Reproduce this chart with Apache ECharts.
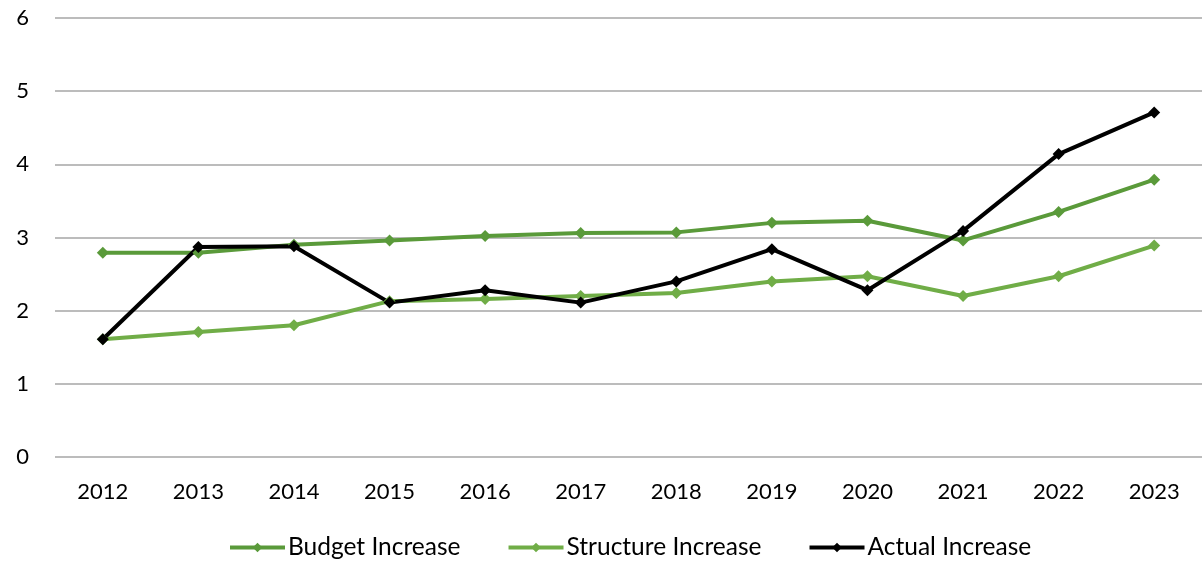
<!DOCTYPE html>
<html>
<head>
    <meta charset="utf-8">
    <title>ECharts</title>
    <script src="https://cdn.jsdelivr.net/npm/echarts@6/dist/echarts.min.js"></script>
    <style>
        html, body { margin: 0; padding: 0; background: #fff; }
    </style>
</head>
<body>
    <div id="main" style="width: 1202px;height:561px;"></div>

    <script type="text/javascript">
    var years = ['2012', '2013', '2014', '2015', '2016', '2017', '2018', '2019', '2020', '2021', '2022', '2023'];
    var budgetIncrease = [2.79, 2.79, 2.90, 2.96, 3.02, 3.06, 3.07, 3.20, 3.23, 2.96, 3.35, 3.79];
    var structureIncrease = [1.61, 1.71, 1.80, 2.13, 2.16, 2.20, 2.24, 2.40, 2.47, 2.20, 2.47, 2.89];
    var actualIncrease = [1.61, 2.87, 2.88, 2.11, 2.28, 2.11, 2.40, 2.84, 2.28, 3.09, 4.14, 4.71];

    var myChart = echarts.init(document.getElementById('main'));

    function makeSeries(name, data, color) {
        return {
            name: name,
            type: 'line',
            data: data,
            symbol: 'diamond',
            symbolSize: 12,
            showAllSymbol: true,
            itemStyle: { color: color },
            lineStyle: { color: color, width: 4 },
            emphasis: { disabled: true },
            animation: false
        };
    }

    var option = {
        animation: false,
        textStyle: { fontFamily: 'Lato', color: '#000' },
        grid: {
            left: 55,
            top: 18,
            width: 1162,
            height: 439
        },
        legend: {
            top: 535,
            left: 228,
            padding: 0,
            itemWidth: 55,
            itemHeight: 12,
            itemGap: 46,
            lineStyle: { width: 4 },
            textStyle: { fontSize: 24.5, color: '#000', fontFamily: 'Lato', padding: [0, 0, 0, -2] },
            data: ['Budget Increase', 'Structure Increase', 'Actual Increase']
        },
        xAxis: {
            type: 'category',
            boundaryGap: true,
            data: years,
            axisLine: { show: false },
            axisTick: { show: false },
            axisLabel: { fontSize: 22, color: '#000', margin: 24 }
        },
        yAxis: {
            type: 'value',
            min: 0,
            max: 6,
            interval: 1,
            axisLine: { show: false },
            axisTick: { show: false },
            axisLabel: { fontSize: 22, color: '#000', margin: 26 },
            splitLine: { lineStyle: { color: '#a6a6a6', width: 1.5 } }
        },
        series: [
            makeSeries('Budget Increase', budgetIncrease, '#5a9a3a'),
            makeSeries('Structure Increase', structureIncrease, '#70ad47'),
            makeSeries('Actual Increase', actualIncrease, '#000000')
        ]
    };

    myChart.setOption(option);
    </script>
</body>
</html>
